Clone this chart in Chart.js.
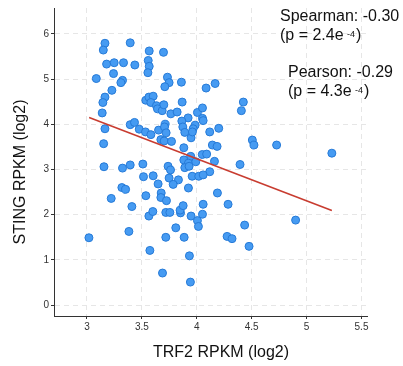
<!DOCTYPE html>
<html>
<head>
<meta charset="utf-8">
<script src="https://cdn.jsdelivr.net/npm/chart.js@4"></script>
<style>
  body { margin: 0; background: #fff; }
  #wrap { width: 403px; height: 366px; }
</style>
</head>
<body>
<div id="wrap"><canvas id="scatter" width="403" height="366"></canvas></div>
<script>
// TRF2 vs STING expression
const trf2 = [
  3.164, 3.149, 3.394, 3.567, 3.697, 3.179, 3.248, 3.333, 3.436, 3.558,
  3.567, 3.555, 3.085, 3.242, 3.324, 3.309, 3.733, 3.748, 3.709, 3.860,
  3.227, 3.164, 3.145, 3.536, 3.564, 3.603, 3.582, 3.633, 3.642, 3.685,
  3.700, 3.867, 3.764, 3.821, 4.006, 3.139, 3.921, 3.864, 3.164, 3.394,
  3.433, 3.476, 3.533, 3.582, 3.652, 3.712, 3.706, 3.721, 3.873, 3.985,
  3.967, 3.891, 3.948, 3.152, 3.673, 3.703, 3.770, 3.882, 3.945, 3.882,
  3.924, 3.991, 3.155, 3.324, 3.394, 3.509, 3.739, 3.761, 3.891, 3.930,
  3.515, 3.603, 3.748, 3.833, 3.958, 4.018, 3.648, 3.318, 3.352, 3.221,
  3.409, 3.536, 3.676, 3.673, 3.724, 3.785, 3.924, 3.564, 3.600, 3.718,
  3.755, 3.852, 3.848, 3.876, 3.948, 4.006, 4.015, 3.809, 3.018, 3.382,
  3.718, 3.885, 3.573, 3.933, 3.688, 3.942, 4.058, 4.285, 4.052, 4.276,
  4.188, 4.436, 4.321, 4.476, 4.900, 4.085, 4.167, 4.424, 4.406, 4.052,
  4.052, 4.058, 4.118, 4.200, 4.506, 4.521, 4.727, 5.230, 4.142, 4.185,
  4.050, 4.090, 4.161, 4.394, 4.118, 4.058, 3.960
];
const sting = [
  5.79, 5.64, 5.80, 5.62, 5.59, 5.33, 5.36, 5.36, 5.31, 5.41,
  5.28, 5.14, 5.01, 5.12, 4.97, 4.92, 5.04, 4.92, 4.83, 4.93,
  4.75, 4.60, 4.48, 4.53, 4.60, 4.62, 4.48, 4.41, 4.34, 4.30,
  4.43, 4.49, 4.23, 4.27, 4.26, 4.25, 4.14, 4.07, 3.90, 3.99,
  4.04, 3.89, 3.83, 3.77, 3.87, 4.00, 3.94, 3.81, 3.94, 3.98,
  3.90, 3.82, 3.70, 3.57, 3.66, 3.63, 3.62, 3.48, 3.29, 3.21,
  3.14, 3.17, 3.06, 3.03, 3.10, 3.12, 3.07, 2.99, 3.04, 3.07,
  2.84, 2.86, 2.81, 2.77, 2.85, 2.85, 2.68, 2.60, 2.56, 2.36,
  2.18, 2.42, 2.48, 2.38, 2.31, 2.67, 2.59, 1.97, 2.07, 2.05,
  2.05, 2.04, 2.10, 2.20, 1.97, 1.87, 1.74, 1.71, 1.49, 1.63,
  1.50, 1.50, 1.21, 1.09, 0.71, 0.51, 2.23, 2.23, 2.01, 1.52,
  2.48, 1.77, 1.47, 1.30, 1.88, 4.80, 4.90, 4.49, 4.30, 4.36,
  4.13, 4.08, 3.83, 3.91, 3.65, 3.54, 3.54, 3.36, 3.54, 3.51,
  3.33, 3.34, 3.18, 3.11, 2.95, 2.88, 3.83
];

// fitted line end points
const fitX = [3.02, 5.23];
const fitY = [4.15, 2.09];

const xTitle = 'TRF2 RPKM (log2)';
const yTitle = 'STING RPKM (log2)';
const notes = [
  { head: 'Spearman: -0.30', p: '(p = 2.4e', exp: '-4' },
  { head: 'Pearson: -0.29', p: '(p = 4.3e', exp: '-4' }
];

const FONT = '"Liberation Sans", Arial, sans-serif';

// axis titles + correlation text
const textPlugin = {
  id: 'extraText',
  afterDraw(chart) {
    const ctx = chart.ctx;
    const area = chart.chartArea;
    ctx.save();
    ctx.fillStyle = '#111';
    ctx.textBaseline = 'alphabetic';

    // axis titles
    ctx.font = '16px ' + FONT;
    ctx.textAlign = 'center';
    ctx.fillText(xTitle, area.left + 167, 357);
    ctx.save();
    ctx.translate(25, area.top + 164);
    ctx.rotate(-Math.PI / 2);
    ctx.fillText(yTitle, 0, 0);
    ctx.restore();

    // stats text
    ctx.textAlign = 'left';
    const spots = [{ x: 280, y: 21 }, { x: 288, y: 77 }];
    notes.forEach((n, i) => {
      const s = spots[i];
      ctx.font = '16px ' + FONT;
      ctx.fillText(n.head, s.x, s.y);
      ctx.fillText(n.p, s.x, s.y + 19);
      let w = ctx.measureText(n.p + ' ').width;
      ctx.font = '9px ' + FONT;
      ctx.fillText(n.exp, s.x + w - 1, s.y + 16);
      w += ctx.measureText(n.exp).width;
      ctx.font = '16px ' + FONT;
      ctx.fillText(')', s.x + w, s.y + 19);
    });
    ctx.restore();
  }
};

const ctx = document.getElementById('scatter').getContext('2d');
new Chart(ctx, {
  type: 'scatter',
  data: {
    datasets: [
      {
        label: 'samples',
        data: trf2.map((x, i) => ({ x: x, y: sting[i] })),
        backgroundColor: 'rgb(70,155,242)',
        borderColor: 'rgb(38,122,215)',
        borderWidth: 1,
        pointRadius: 4,
        order: 2
      },
      {
        type: 'line',
        label: 'fit',
        data: fitX.map((x, i) => ({ x: x, y: fitY[i] })),
        borderColor: 'rgb(200,60,48)',
        borderWidth: 1.6,
        pointRadius: 0,
        fill: false,
        order: 1
      }
    ]
  },
  options: {
    responsive: false,
    animation: false,
    layout: { padding: { top: 3, right: 36, left: 0, bottom: 0 } },
    plugins: {
      legend: { display: false },
      tooltip: { enabled: false }
    },
    scales: {
      x: {
        type: 'linear',
        min: 2.7,
        max: 5.55,
        afterFit(scale) { scale.height = 50; },
        ticks: {
          stepSize: 0.5,
          includeBounds: false,
          padding: 2,
          color: '#333',
          font: { size: 10, family: FONT },
          callback: v => String(v)
        },
        grid: { color: '#e6e6e6', tickColor: '#333', tickLength: 3 },
        border: { color: '#333', width: 1, dash: [5, 4] }
      },
      y: {
        type: 'linear',
        min: -0.24,
        max: 6.57,
        afterFit(scale) { scale.width = 54; },
        ticks: {
          stepSize: 1,
          includeBounds: false,
          padding: 2,
          color: '#333',
          font: { size: 10, family: FONT }
        },
        grid: { color: '#e6e6e6', tickColor: '#333', tickLength: 3 },
        border: { color: '#333', width: 1, dash: [5, 4] }
      }
    }
  },
  plugins: [textPlugin]
});
</script>
</body>
</html>
